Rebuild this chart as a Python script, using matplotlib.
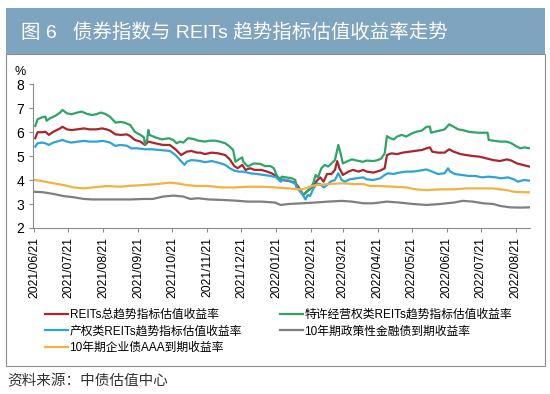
import numpy as np
import pandas as pd
from matplotlib import pyplot as plt
import matplotlib.dates as mdates
from matplotlib.patches import Rectangle

plt.rcParams['font.family'] = ['Liberation Sans', 'Noto Sans CJK SC', 'DejaVu Sans']

start = pd.Timestamp("2021-06-21")

# day offsets from 2021/06/21 and values (%)
green_days = [1, 3, 7, 10, 11, 14, 19, 23, 25, 29, 33, 38, 42, 47, 51, 55, 59, 63, 67, 72, 76, 80, 85, 89, 94, 97, 98, 100, 101, 102,
              107, 113, 119, 123, 126, 129, 132, 136, 141, 145, 151, 156, 160, 164, 169, 173, 176, 178, 181, 184, 185, 189, 194,
              200, 204, 209, 212, 214, 217, 219, 223, 228, 231, 232, 235, 238, 241, 244, 247, 249, 251, 254, 257, 260, 263, 266,
              267, 269, 271, 273, 276, 281, 287, 291, 294, 300, 304, 307, 310, 312, 315, 318, 321, 325, 329, 334, 338, 343, 347,
              350, 351, 354, 359, 363, 367, 371, 375, 379, 384, 388, 393, 397, 401, 402, 406, 412, 418, 422, 427, 430, 434, 438]
green = [6.25, 6.53, 6.61, 6.64, 6.47, 6.57, 6.68, 6.81, 6.92, 6.78, 6.74, 6.81, 6.85, 6.75, 6.71, 6.74, 6.81, 6.75, 6.64, 6.39,
         6.42, 6.39, 6.29, 6.01, 5.88, 5.78, 5.49, 5.69, 6.08, 5.88, 5.78, 5.69, 5.74, 5.67, 5.53, 5.60, 5.56, 5.74, 5.71, 5.64,
         5.60, 5.64, 5.64, 5.60, 5.53, 5.39, 5.25, 4.76, 4.86, 4.94, 4.76, 4.56, 4.69, 4.67, 4.58, 4.58, 4.49, 4.25, 4.00, 4.14,
         4.11, 4.07, 4.00, 3.69, 3.58, 3.38, 3.51, 3.61, 3.89, 4.21, 4.11, 4.49, 4.63, 4.56, 4.69, 4.83, 5.04, 5.46, 5.11, 4.69,
         4.76, 4.86, 4.79, 4.76, 4.81, 4.79, 4.83, 4.90, 5.11, 5.83, 5.74, 5.69, 5.81, 5.88, 5.81, 5.94, 6.01, 6.06, 6.22, 6.22,
         5.97, 6.01, 6.06, 6.11, 6.32, 6.22, 6.11, 6.08, 6.01, 5.99, 5.97, 5.97, 5.97, 5.67, 5.64, 5.60, 5.60, 5.53, 5.39, 5.32,
         5.36, 5.32]

red_days = [1, 3, 7, 10, 13, 17, 23, 25, 29, 33, 38, 44, 49, 55, 60, 64, 67, 72, 77, 82, 85, 89, 94, 98, 101, 107, 114, 120, 125,
            130, 135, 139, 144, 147, 151, 157, 163, 169, 173, 177, 180, 184, 187, 191, 195, 201, 206, 210, 214, 219, 225, 231, 234,
            238, 242, 247, 250, 253, 256, 259, 263, 266, 268, 270, 273, 278, 282, 287, 291, 294, 300, 306, 310, 312, 316, 321, 326,
            332, 338, 343, 347, 350, 352, 357, 363, 367, 371, 377, 382, 388, 394, 400, 406, 412, 418, 422, 427, 432, 438]
red = [5.74, 5.99, 5.99, 6.01, 5.88, 6.01, 6.15, 6.22, 6.11, 6.08, 6.11, 6.15, 6.11, 6.11, 6.15, 6.11, 6.06, 5.90, 5.88, 5.90,
       5.83, 5.67, 5.60, 5.46, 5.60, 5.53, 5.46, 5.46, 5.28, 5.04, 5.18, 5.21, 5.14, 5.14, 5.08, 5.14, 5.11, 5.04, 4.86, 4.58,
       4.49, 4.63, 4.42, 4.49, 4.42, 4.42, 4.35, 4.28, 4.17, 4.00, 3.96, 3.89, 3.69, 3.38, 3.56, 3.75, 3.97, 4.11, 3.93, 4.25,
       4.25, 4.42, 4.79, 4.49, 4.21, 4.35, 4.42, 4.35, 4.42, 4.35, 4.31, 4.39, 4.49, 5.04, 5.11, 5.08, 5.14, 5.18, 5.22, 5.25,
       5.32, 5.36, 5.18, 5.14, 5.14, 5.28, 5.18, 5.08, 5.04, 5.00, 4.97, 4.90, 4.83, 4.79, 4.86, 4.81, 4.69, 4.63, 4.56]

blue_days = [1, 3, 7, 10, 13, 17, 23, 25, 29, 33, 39, 44, 49, 55, 61, 67, 72, 76, 82, 86, 91, 98, 104, 111, 120, 125, 129, 133,
             135, 139, 144, 147, 151, 157, 163, 169, 173, 177, 181, 185, 191, 197, 203, 209, 214, 218, 220, 226, 231, 234, 237,
             240, 242, 244, 247, 250, 253, 256, 259, 262, 266, 269, 272, 275, 279, 285, 291, 294, 300, 306, 310, 313, 318, 323,
             329, 335, 341, 347, 352, 357, 363, 366, 368, 372, 378, 384, 390, 396, 402, 408, 413, 419, 424, 428, 433, 438]
blue = [5.39, 5.53, 5.56, 5.53, 5.46, 5.56, 5.64, 5.67, 5.60, 5.56, 5.60, 5.63, 5.60, 5.60, 5.63, 5.56, 5.42, 5.46, 5.43, 5.32,
        5.32, 5.28, 5.28, 5.25, 5.21, 5.04, 4.83, 4.63, 4.76, 4.83, 4.81, 4.79, 4.74, 4.79, 4.72, 4.63, 4.49, 4.39, 4.35, 4.35,
        4.28, 4.25, 4.21, 4.17, 4.11, 3.93, 4.03, 3.97, 3.83, 3.58, 3.42, 3.19, 3.38, 3.33, 3.65, 3.86, 3.83, 3.69, 3.79, 3.93,
        4.00, 4.28, 4.00, 3.93, 4.03, 4.07, 4.11, 4.03, 4.00, 4.07, 4.21, 4.28, 4.25, 4.31, 4.35, 4.35, 4.39, 4.44, 4.35, 4.25,
        4.28, 4.49, 4.35, 4.25, 4.21, 4.17, 4.17, 4.11, 4.14, 4.11, 4.07, 4.11, 4.03, 3.93, 4.00, 3.97]

yellow_days = [0, 5, 14, 26, 35, 44, 52, 64, 76, 85, 97, 108, 120, 126, 135, 144, 154, 166, 178, 189, 201, 213, 225, 231, 237,
               242, 248, 260, 272, 284, 291, 297, 306, 318, 329, 338, 347, 359, 371, 382, 394, 406, 412, 418, 424, 433, 438]
yellow = [4.00, 3.97, 3.89, 3.79, 3.69, 3.65, 3.69, 3.75, 3.72, 3.76, 3.79, 3.83, 3.89, 3.86, 3.79, 3.75, 3.75, 3.69, 3.69, 3.72,
          3.72, 3.69, 3.65, 3.62, 3.61, 3.69, 3.78, 3.83, 3.86, 3.83, 3.83, 3.75, 3.75, 3.72, 3.69, 3.61, 3.58, 3.61, 3.61, 3.65,
          3.65, 3.65, 3.61, 3.58, 3.51, 3.49, 3.49]

gray_days = [0, 8, 17, 26, 35, 44, 52, 64, 76, 85, 97, 105, 114, 123, 132, 138, 145, 154, 166, 178, 189, 201, 213, 218, 225, 237,
             248, 260, 272, 281, 291, 300, 312, 323, 335, 347, 359, 371, 379, 388, 397, 406, 412, 421, 430, 438]
gray = [3.51, 3.49, 3.42, 3.33, 3.28, 3.21, 3.19, 3.19, 3.19, 3.19, 3.21, 3.21, 3.31, 3.35, 3.31, 3.21, 3.24, 3.19, 3.17, 3.14,
        3.10, 3.10, 3.06, 2.96, 3.00, 3.03, 3.06, 3.10, 3.13, 3.10, 3.03, 3.03, 3.10, 3.06, 3.00, 2.96, 3.00, 3.06, 3.13, 3.10,
        3.03, 3.00, 2.92, 2.86, 2.85, 2.86]

labels = ["REITs总趋势指标估值收益率", "特许经营权类REITs趋势指标估值收益率", "产权类REITs趋势指标估值收益率",
          "10年期政策性金融债到期收益率", "10年期企业债AAA到期收益率"]
ticks = pd.date_range("2021-06-01", "2022-08-01", freq="MS") + pd.Timedelta(days=20)


def to_dates(d):
    return start + pd.to_timedelta(d, unit="D")


fig = plt.figure(figsize=(5.5, 3.94), dpi=100)

# title bar and frame
fig.patches.append(Rectangle((6 / 550, 1 - 54 / 394), 539 / 550, 46 / 394, transform=fig.transFigure,
                             facecolor="#7fa4c0", edgecolor="none"))
fig.patches.append(Rectangle((6 / 550, 1 - 366 / 394), 539 / 550, 312 / 394, transform=fig.transFigure,
                             facecolor="none", edgecolor="#8c8c8c", linewidth=0.8))
fig.text(21 / 550, 1 - 33 / 394, "图 6   债券指数与 REITs 趋势指标估值收益率走势", color="white",
         fontsize=14, va="center", ha="left")
fig.text(7 / 550, 1 - 381 / 394, "资料来源：中债估值中心", color="#333333", fontsize=10.5, va="center", ha="left")

ax = fig.add_axes([33 / 550, 1 - 228 / 394, 497 / 550, 144 / 394])
l_red, = ax.plot(to_dates(red_days), red, color="#a8262c", lw=1.6)
l_green, = ax.plot(to_dates(green_days), green, color="#2ea566", lw=1.6)
l_blue, = ax.plot(to_dates(blue_days), blue, color="#2ea3d8", lw=1.6)
l_gray, = ax.plot(to_dates(gray_days), gray, color="#7f7f7f", lw=1.6)
l_yellow, = ax.plot(to_dates(yellow_days), yellow, color="#f1b340", lw=1.6)

ax.set_ylim(2, 8)
ax.set_yticks(range(2, 9))
ax.set_xlim(to_dates(-1), to_dates(438.5))
ax.set_xticks(ticks)
ax.xaxis.set_major_formatter(mdates.DateFormatter("%Y/%m/%d"))
plt.setp(ax.get_xticklabels(), rotation=90)
ax.tick_params(labelsize=8.7, color="#8c8c8c", length=3, width=0.8)
ax.tick_params(axis="y", labelsize=10)
for s in ["top", "right"]:
    ax.spines[s].set_visible(False)
for s in ["left", "bottom"]:
    ax.spines[s].set_color("#8c8c8c")
ax.text(-0.025, 1.04, "%", transform=ax.transAxes, fontsize=9, ha="center", va="bottom")

fig.legend([l_red, l_blue, l_yellow, l_green, l_gray], [labels[0], labels[2], labels[4], labels[1], labels[3]],
           ncol=2, loc="upper left", bbox_to_anchor=(40 / 550, 1 - 304 / 394), frameon=False, fontsize=8.5,
           handlelength=2.0, handletextpad=0.1, columnspacing=3.2, labelspacing=0.4, borderaxespad=0)

fig.savefig("out.png", dpi=100)
